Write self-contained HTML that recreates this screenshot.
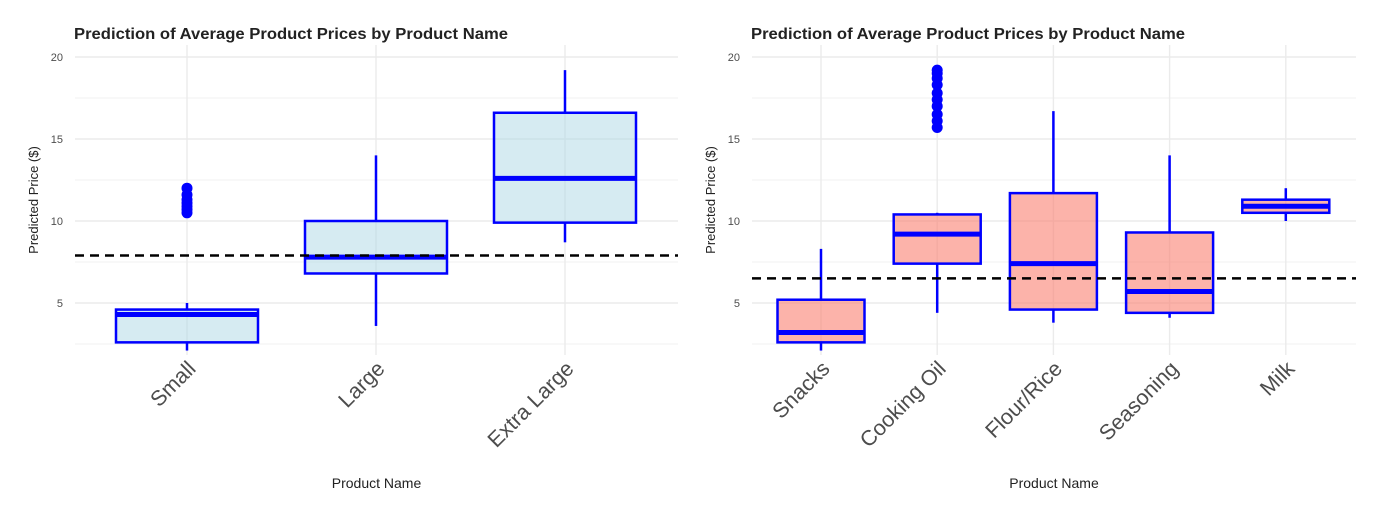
<!DOCTYPE html>
<html><head><meta charset="utf-8"><style>
body{margin:0;background:#fff;font-family:"Liberation Sans",sans-serif}
</style></head><body>
<svg id="s" width="1382" height="518" xmlns="http://www.w3.org/2000/svg"></svg>
<script>
const leftCats=["Small","Large","Extra Large"];
const leftLo=[2.1,3.6,8.7],leftQ1=[2.6,6.8,9.9],leftMed=[4.3,7.8,12.6],leftQ3=[4.6,10.0,16.6],leftHi=[5.0,14.0,19.2];
const leftOut=[[10.5,10.7,10.9,11.1,11.3,11.6,12.0],[],[]];
const leftRef=7.9;
const rightCats=["Snacks","Cooking Oil","Flour/Rice","Seasoning","Milk"];
const rightLo=[2.1,4.4,3.8,4.1,10.0],rightQ1=[2.6,7.4,4.6,4.4,10.5],rightMed=[3.2,9.2,7.4,5.7,10.9],rightQ3=[5.2,10.4,11.7,9.3,11.3],rightHi=[8.3,10.5,16.7,14.0,12.0];
const rightOut=[[],[15.7,16.1,16.5,17.0,17.4,17.8,18.3,18.7,19.0,19.2],[],[],[]];
const rightRef=6.5;
const yTicks=[5,10,15,20];
const NS="http://www.w3.org/2000/svg";
const svg=document.getElementById('s');
function el(t,a,txt){const e=document.createElementNS(NS,t);for(const k in a)e.setAttribute(k,a[k]);if(txt!==undefined)e.textContent=txt;svg.appendChild(e);return e;}
const y=v=>57+(20-v)*16.4;
function panel(p,x0,x1,cx0,step,bw,cats,lo,q1,med,q3,hi,out,ref,fill,op){
  for(let v=2.5;v<=20;v+=2.5){let g=el('line',{x1:x0,x2:x1,y1:y(v),y2:y(v),stroke:'#ebebeb','stroke-width':v%5==0?1.4:0.7});
    }
  cats.forEach((c,i)=>{const cx=cx0+i*step;let g=el('line',{x1:cx,x2:cx,y1:45,y2:355,stroke:'#ebebeb','stroke-width':1.4});
    });
  yTicks.forEach(v=>{let t=el('text',{x:x0-12,y:y(v)+4,'text-anchor':'end','font-size':11,fill:'#4d4d4d'},v);
    });
  cats.forEach((c,i)=>{const cx=cx0+i*step;
    let w=el('line',{x1:cx,x2:cx,y1:y(hi[i]),y2:y(q3[i]),stroke:'blue','stroke-width':2.5});
    
    let w2=el('line',{x1:cx,x2:cx,y1:y(q1[i]),y2:y(lo[i]),stroke:'blue','stroke-width':2.5});
    
    let b=el('rect',{x:cx-bw/2,y:y(q3[i]),width:bw,height:y(q1[i])-y(q3[i]),fill:fill,'fill-opacity':op,stroke:'blue','stroke-width':2.5});
    
    let m=el('line',{x1:cx-bw/2,x2:cx+bw/2,y1:y(med[i]),y2:y(med[i]),stroke:'blue','stroke-width':5});
    
    out[i].forEach(v=>{let o=el('circle',{cx:cx,cy:y(v),r:5.5,fill:'blue'});
      });
    let t=el('text',{x:cx+10,y:370,'text-anchor':'end','font-size':21.5,fill:'#4d4d4d',transform:`rotate(-45 ${cx+10} 370)`},c);
    
  });
  let d=el('line',{x1:x0,x2:x1,y1:y(ref),y2:y(ref),stroke:'#000','stroke-width':2.5,'stroke-dasharray':'9,6'});
  
  let ti=el('text',{x:x0-1,y:39,'font-size':16,'font-weight':'bold',fill:'#222',textLength:434,lengthAdjust:'spacingAndGlyphs'},'Prediction of Average Product Prices by Product Name');
  
  let xt=el('text',{x:(x0+x1)/2,y:488,'text-anchor':'middle','font-size':14,fill:'#222'},'Product Name');
  
  let yx=x0-37,yy=200;
  let yt=el('text',{x:yx,y:yy,'text-anchor':'middle','font-size':13,fill:'#222',transform:`rotate(-90 ${yx} ${yy})`},'Predicted Price ($)');
  
}
panel('l',75,678,187,189,142,leftCats,leftLo,leftQ1,leftMed,leftQ3,leftHi,leftOut,leftRef,'#add8e6',0.5);
panel('r',752,1356,821,116.2,87,rightCats,rightLo,rightQ1,rightMed,rightQ3,rightHi,rightOut,rightRef,'#fa8072',0.6);
</script>
</body></html>
